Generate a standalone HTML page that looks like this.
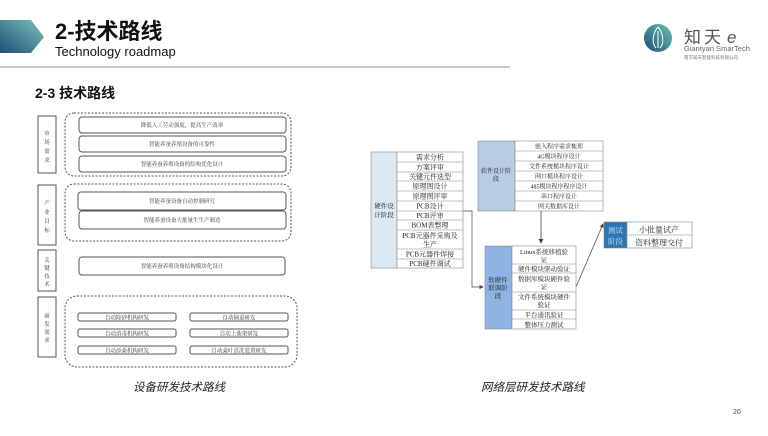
<!DOCTYPE html>
<html><head><meta charset="utf-8"><style>
body{margin:0;width:768px;height:431px;background:#fff;overflow:hidden;font-family:"Liberation Sans","Noto Sans CJK SC",sans-serif}
svg text{font-family:"Liberation Serif","Noto Serif CJK SC",serif}
.s{font-family:"Liberation Sans","Noto Sans CJK SC",sans-serif !important}
</style></head><body>
<svg width="768" height="431" xmlns="http://www.w3.org/2000/svg">
<defs>
<linearGradient id="g1" x1="0" y1="1" x2="1" y2="0"><stop offset="0" stop-color="#1e4e78"/><stop offset="1" stop-color="#7cc4b8"/></linearGradient>
<linearGradient id="g2" x1="0" y1="1" x2="1" y2="0"><stop offset="0" stop-color="#1d4f7a"/><stop offset="1" stop-color="#6cc0b0"/></linearGradient>
<marker id="ar" markerWidth="6" markerHeight="6" refX="5" refY="3" orient="auto"><path d="M0,0 L6,3 L0,6 z" fill="#444"/></marker>
</defs>
<!-- header -->
<polygon points="0,20 31,20 44,37 31,53 0,53" fill="url(#g1)"/>
<text x="55" y="39" class="s" font-size="22" font-weight="bold" fill="#111">2-技术路线</text>
<text x="55" y="56" class="s" font-size="13" fill="#111">Technology roadmap</text>
<line x1="0" y1="67" x2="510" y2="67" stroke="#aabfcc" stroke-width="1.5"/>
<text x="35" y="98" class="s" font-size="14" font-weight="bold" fill="#111">2-3 技术路线</text>
<!-- logo -->
<circle cx="658" cy="38" r="14" fill="url(#g2)"/>
<path d="M658,27 C652,34 652,44 656,48 M658,27 C664,34 664,44 660,48 M658,31 L658,48" stroke="#fff" stroke-width="1" fill="none"/>
<text x="684" y="43" class="s" font-size="17" fill="#555" letter-spacing="3">知天</text>
<text x="727" y="43" class="s" font-size="17" font-style="italic" fill="#555">e</text>
<text x="684" y="51" class="s" font-size="7.5" fill="#666">Giantyan SmarTech</text>
<text x="684" y="59" class="s" font-size="4.5" fill="#777">南京知天智能科技有限公司</text>

<!-- left diagram -->
<g fill="none" stroke="#555" stroke-width="1">
<rect x="38" y="116" width="18" height="57"/>
<rect x="38" y="185" width="18" height="60"/>
<rect x="38" y="250" width="18" height="41"/>
<rect x="38" y="297" width="18" height="60"/>
<rect x="65" y="113" width="226" height="63" rx="9" stroke-dasharray="2,1.5"/>
<rect x="65" y="184" width="226" height="57" rx="9" stroke-dasharray="2,1.5"/>
<rect x="65" y="296" width="232" height="71" rx="12" stroke-dasharray="2,1.5"/>
<rect x="79" y="117" width="207" height="16" rx="3"/>
<rect x="79" y="136" width="207" height="16" rx="3"/>
<rect x="79" y="156" width="207" height="16" rx="3"/>
<rect x="78" y="192" width="208" height="18" rx="3"/>
<rect x="79" y="211" width="207" height="18" rx="3"/>
<rect x="79" y="257" width="206" height="18" rx="3"/>
<rect x="78" y="313" width="98" height="8" rx="2"/>
<rect x="78" y="329" width="98" height="8" rx="2"/>
<rect x="78" y="346" width="98" height="8" rx="2"/>
<rect x="190" y="313" width="98" height="8" rx="2"/>
<rect x="190" y="329" width="98" height="8" rx="2"/>
<rect x="190" y="346" width="98" height="8" rx="2"/>
</g>
<g font-size="5.5" fill="#333" text-anchor="middle">
<text x="47" y="135">市</text><text x="47" y="144">场</text><text x="47" y="153">需</text><text x="47" y="162">求</text>
<text x="47" y="205">产</text><text x="47" y="214">业</text><text x="47" y="223">目</text><text x="47" y="232">标</text>
<text x="47" y="262">关</text><text x="47" y="270">键</text><text x="47" y="278">技</text><text x="47" y="286">术</text>
<text x="47" y="318">研</text><text x="47" y="326">发</text><text x="47" y="334">需</text><text x="47" y="342">求</text>
<text x="182" y="127">降低人工劳动强度，提高生产效率</text>
<text x="182" y="146">智能养蚕养殖设备的可靠性</text>
<text x="182" y="166">智能养蚕养殖设备的结构优化设计</text>
<text x="182" y="203">智能养蚕设备自动控制研究</text>
<text x="182" y="222">智能养蚕设备大批量生生产制造</text>
<text x="182" y="268">智能养蚕养殖设备结构模块化设计</text>
<text x="127" y="319.5">自动除砂机构研发</text>
<text x="127" y="335.5">自动消毒机构研发</text>
<text x="127" y="352.5">自动添桑机构研发</text>
<text x="239" y="319.5">自动摘蚕研发</text>
<text x="239" y="335.5">自动上蔟架研发</text>
<text x="239" y="352.5">自动桑叶清洗装置研发</text>
</g>
<text x="133" y="391" font-size="11.5" font-style="italic" class="s" fill="#222">设备研发技术路线</text>
<text x="481" y="391" font-size="11.5" font-style="italic" class="s" fill="#222">网络层研发技术路线</text>

<!-- hardware table -->
<rect x="371" y="152" width="26" height="116" fill="#dde8f3" stroke="#888" stroke-width="0.6"/>
<text x="384" y="208" font-size="6.5" text-anchor="middle" fill="#222">硬件设</text>
<text x="384" y="217" font-size="6.5" text-anchor="middle" fill="#222">计阶段</text>
<g stroke="#888" stroke-width="0.6" fill="#fff">
<rect x="397" y="152" width="66" height="116"/>
</g>
<g stroke="#888" stroke-width="0.6">
<line x1="397" y1="162" x2="463" y2="162"/><line x1="397" y1="172" x2="463" y2="172"/><line x1="397" y1="181" x2="463" y2="181"/><line x1="397" y1="191" x2="463" y2="191"/><line x1="397" y1="201" x2="463" y2="201"/><line x1="397" y1="211" x2="463" y2="211"/><line x1="397" y1="220" x2="463" y2="220"/><line x1="397" y1="230" x2="463" y2="230"/><line x1="397" y1="249" x2="463" y2="249"/><line x1="397" y1="259" x2="463" y2="259"/>
</g>
<g font-size="7" text-anchor="middle" fill="#222">
<text x="430" y="159.5">需求分析</text><text x="430" y="169.5">方案评审</text><text x="430" y="179">关键元件选型</text><text x="430" y="188.5">原理图设计</text><text x="430" y="198.5">原理图评审</text><text x="430" y="208.5">PCB设计</text><text x="430" y="218">PCB评审</text><text x="430" y="227.5">BOM表整理</text><text x="430" y="238">PCB元器件采购及</text><text x="430" y="246.5">生产</text><text x="430" y="256.5">PCB元器件焊接</text><text x="430" y="266">PCB硬件调试</text>
</g>
<!-- software table -->
<rect x="478" y="141" width="37" height="70" fill="#b8cce4" stroke="#888" stroke-width="0.6"/>
<text x="496" y="173" font-size="6" text-anchor="middle" fill="#222">软件设计阶</text>
<text x="496" y="181" font-size="6" text-anchor="middle" fill="#222">段</text>
<rect x="515" y="141" width="88" height="70" fill="#fff" stroke="#888" stroke-width="0.6"/>
<g stroke="#888" stroke-width="0.6"><line x1="515" y1="151" x2="603" y2="151"/><line x1="515" y1="161" x2="603" y2="161"/><line x1="515" y1="171" x2="603" y2="171"/><line x1="515" y1="181" x2="603" y2="181"/><line x1="515" y1="191" x2="603" y2="191"/><line x1="515" y1="201" x2="603" y2="201"/></g>
<g font-size="6" text-anchor="middle" fill="#222">
<text x="559" y="148.5">嵌入程序需求梳理</text><text x="559" y="158.5">4G模块程序设计</text><text x="559" y="168.5">文件系统模块程序设计</text><text x="559" y="178.5">网口模块程序设计</text><text x="559" y="188.5">485模块程序程序设计</text><text x="559" y="198.5">串口程序设计</text><text x="559" y="208.5">网关数据库设计</text>
</g>
<!-- connectors -->
<line x1="541" y1="211" x2="541" y2="243" stroke="#444" stroke-width="0.8" marker-end="url(#ar)"/>
<polyline points="463,211 472,211 472,287 483,287" fill="none" stroke="#444" stroke-width="0.7" marker-end="url(#ar)"/>
<line x1="576" y1="287" x2="603" y2="224" stroke="#444" stroke-width="0.7" marker-end="url(#ar)"/>
<!-- joint table -->
<rect x="485" y="246" width="27" height="83" fill="#8eb4e3" stroke="#888" stroke-width="0.6"/>
<g font-size="6.5" text-anchor="middle" fill="#222"><text x="498" y="282">软硬件</text><text x="498" y="290">联调阶</text><text x="498" y="298">段</text></g>
<rect x="512" y="246" width="64" height="83" fill="#fff" stroke="#888" stroke-width="0.6"/>
<g stroke="#888" stroke-width="0.6"><line x1="512" y1="264" x2="576" y2="264"/><line x1="512" y1="273" x2="576" y2="273"/><line x1="512" y1="292" x2="576" y2="292"/><line x1="512" y1="310" x2="576" y2="310"/><line x1="512" y1="319" x2="576" y2="319"/></g>
<g font-size="6.5" text-anchor="middle" fill="#222">
<text x="544" y="254">Linux系统移植验</text><text x="544" y="262">证</text><text x="544" y="271">硬件模块驱动验证</text><text x="544" y="281">数据库模块硬件验</text><text x="544" y="289">证</text><text x="544" y="299">文件系统模块硬件</text><text x="544" y="307">验证</text><text x="544" y="317">平台通讯验证</text><text x="544" y="327">整体压力测试</text>
</g>
<!-- test table -->
<rect x="604" y="222" width="23" height="26" fill="#2e75b6" stroke="#888" stroke-width="0.6"/>
<text x="615.5" y="233" font-size="7.5" text-anchor="middle" fill="#cfe0f0">测试</text>
<text x="615.5" y="244" font-size="7.5" text-anchor="middle" fill="#cfe0f0">阶段</text>
<rect x="627" y="222" width="65" height="26" fill="#fff" stroke="#888" stroke-width="0.6"/>
<line x1="627" y1="235" x2="692" y2="235" stroke="#888" stroke-width="0.6"/>
<text x="659" y="232.5" font-size="8" text-anchor="middle" fill="#222">小批量试产</text>
<text x="659" y="245.5" font-size="8" text-anchor="middle" fill="#222">资料整理交付</text>

<text x="733" y="414" class="s" font-size="7" fill="#444">20</text>
</svg>
</body></html>
